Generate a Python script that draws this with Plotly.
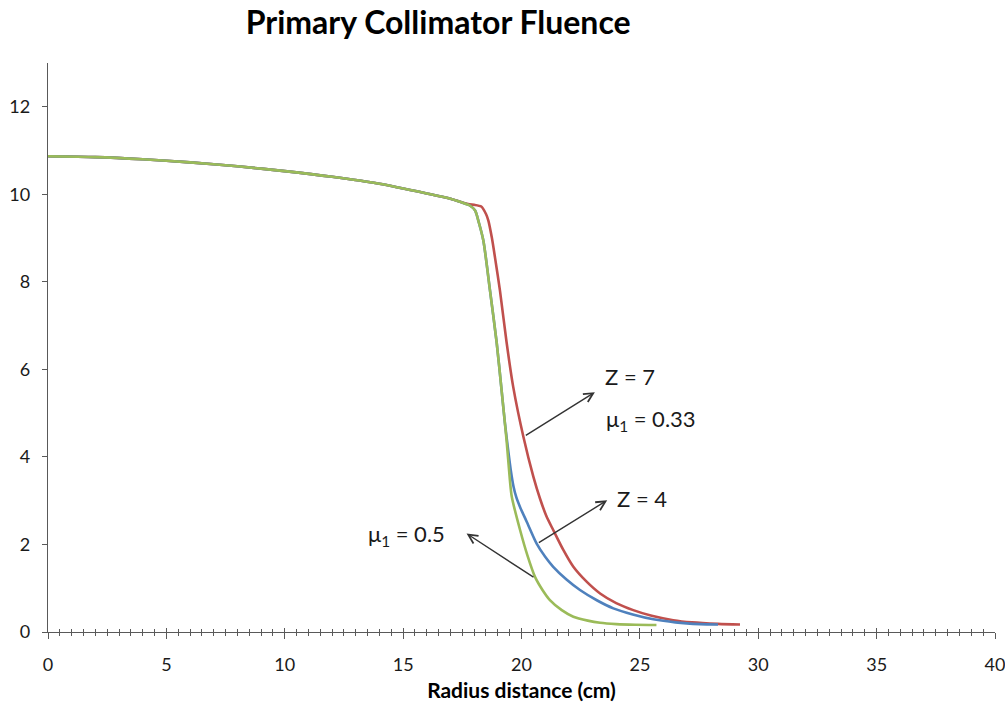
import plotly.graph_objects as go

# Fluence profiles behind the primary collimator (radius in cm)
x_z7 = [0, 2, 4, 6, 8, 10, 12, 14, 16, 17, 17.4, 17.8, 18.0, 18.3, 18.5, 18.6, 18.75,
        18.88, 19.09, 19.37, 19.65, 20.08, 20.5, 20.78, 21.05, 21.34, 21.76, 22.19, 22.75,
        23.32, 24.0, 24.72, 25.5, 26.41, 27.2, 28.3, 29.23]
y_z7 = [10.87, 10.85, 10.8, 10.73, 10.64, 10.53, 10.4, 10.24, 10.02, 9.9, 9.83, 9.77,
        9.76, 9.72, 9.55, 9.40, 9.0, 8.56, 7.80, 6.62, 5.60, 4.46, 3.55, 3.05, 2.65, 2.33,
        1.88, 1.49, 1.15, 0.88, 0.66, 0.50, 0.37, 0.27, 0.22, 0.185, 0.17]

x_z4 = [0, 2, 4, 6, 8, 10, 12, 14, 16, 17, 17.4, 17.8, 18.04, 18.2, 18.39, 18.67, 18.95,
        19.16, 19.3, 19.45, 19.56, 19.66, 19.78, 19.95, 20.22, 20.64, 21.0, 21.34, 21.9,
        22.47, 23.2, 23.88, 24.7, 25.57, 26.5, 27.54, 28.3]
y_z4 = [10.87, 10.85, 10.8, 10.73, 10.64, 10.53, 10.4, 10.24, 10.02, 9.9, 9.83, 9.75,
        9.63, 9.35, 8.94, 7.80, 6.62, 5.52, 4.77, 4.10, 3.65, 3.33, 3.08, 2.84, 2.52, 2.02,
        1.72, 1.49, 1.2, 0.96, 0.72, 0.54, 0.4, 0.29, 0.22, 0.18, 0.17]

x_mu05 = [0, 2, 4, 6, 8, 10, 12, 14, 16, 17, 17.4, 17.8, 18.04, 18.2, 18.39, 18.67, 18.95,
          19.16, 19.37, 19.51, 19.59, 19.94, 20.25, 20.57, 20.9, 21.2, 21.7, 22.19, 22.8,
          23.32, 24.0, 24.8, 25.7]
y_mu05 = [10.87, 10.85, 10.8, 10.73, 10.64, 10.53, 10.4, 10.24, 10.02, 9.9, 9.83, 9.75,
          9.63, 9.35, 8.94, 7.80, 6.62, 5.52, 4.38, 3.47, 3.09, 2.33, 1.75, 1.26, 0.95,
          0.73, 0.5, 0.35, 0.26, 0.21, 0.18, 0.165, 0.16]

FONT = "Lato"
TEXT = "#1a1a1a"
AXIS = "#595959"

fig = go.Figure()
for xs, ys, col, name in [
    (x_z7, y_z7, "#C0504D", "Z = 7, μ1 = 0.33"),
    (x_z4, y_z4, "#4F81BD", "Z = 4"),
    (x_mu05, y_mu05, "#9BBB59", "μ1 = 0.5"),
]:
    fig.add_trace(go.Scatter(x=xs, y=ys, mode="lines", name=name,
                             line=dict(color=col, width=2.6, shape="spline", smoothing=0.7)))

# empty trace carrying the overlay axis used for the inward tick marks
fig.add_trace(go.Scatter(x=[], y=[], xaxis="x2", showlegend=False))

labels = [
    (23.45, 5.84, "Z = 7"),
    (23.5, 4.84, "μ<sub>1</sub> = 0.33"),
    (23.95, 3.06, "Z = 4"),
    (13.45, 2.21, "μ<sub>1</sub> = 0.5"),
]
for lx, ly, txt in labels:
    fig.add_annotation(x=lx, y=ly, text=txt, showarrow=False, xanchor="left",
                       yanchor="middle", font=dict(family=FONT, size=22, color=TEXT))

arrows = [
    # (head x, head y, tail x, tail y)
    (23.1, 5.48, 20.12, 4.47),
    (23.62, 3.01, 20.67, 2.02),
    (17.68, 2.25, 20.57, 1.23),
]
for hx, hy, tx, ty in arrows:
    fig.add_annotation(x=hx, y=hy, ax=tx, ay=ty, xref="x", yref="y", axref="x", ayref="y",
                       text="", showarrow=True, arrowhead=5, arrowsize=1.3,
                       arrowwidth=1.4, arrowcolor="#333333")

fig.update_layout(
    width=1005, height=702,
    margin=dict(l=48, r=10, t=63, b=70),
    paper_bgcolor="white", plot_bgcolor="white",
    showlegend=False,
    font=dict(family=FONT, color=TEXT, size=18),
    title=dict(text="Primary Collimator Fluence", x=0.436, xref="container", xanchor="center",
               y=1 - 23 / 702, yref="container", yanchor="middle",
               font=dict(family=FONT, size=32, weight=700, color="#000000")),
    xaxis=dict(range=[0, 40], dtick=5, tick0=0, showgrid=False, zeroline=False,
               automargin=False, ticklabeloverflow="allow",
               showline=True, linecolor=AXIS, linewidth=1.3,
               ticks="outside", ticklen=6, tickwidth=1.3, tickcolor=AXIS,
               minor=dict(dtick=0.5, ticks="outside", ticklen=3, tickwidth=1.1, tickcolor=AXIS),
               ticklabelstandoff=10,
               tickfont=dict(family=FONT, size=18, color=TEXT),
               title=dict(text="Radius distance (cm)", standoff=10,
                          font=dict(family=FONT, size=21, weight=700, color="#000000"))),
    xaxis2=dict(range=[0, 40], overlaying="x", anchor="y", dtick=5, tick0=0,
                automargin=False,
                showgrid=False, zeroline=False, showline=False, showticklabels=False,
                ticks="inside", ticklen=4, tickwidth=1.3, tickcolor=AXIS,
                minor=dict(dtick=0.5, ticks="inside", ticklen=3, tickwidth=1.1, tickcolor=AXIS)),
    yaxis=dict(range=[0, 13], tickvals=[0, 2, 4, 6, 8, 10, 12], showgrid=False, zeroline=False,
               automargin=False, ticklabeloverflow="allow",
               showline=True, linecolor=AXIS, linewidth=1.3,
               ticks="outside", ticklen=5, tickwidth=1.3, tickcolor=AXIS,
               ticklabelstandoff=8,
               tickfont=dict(family=FONT, size=18, color=TEXT)),
)

fig.write_html("out.html")
